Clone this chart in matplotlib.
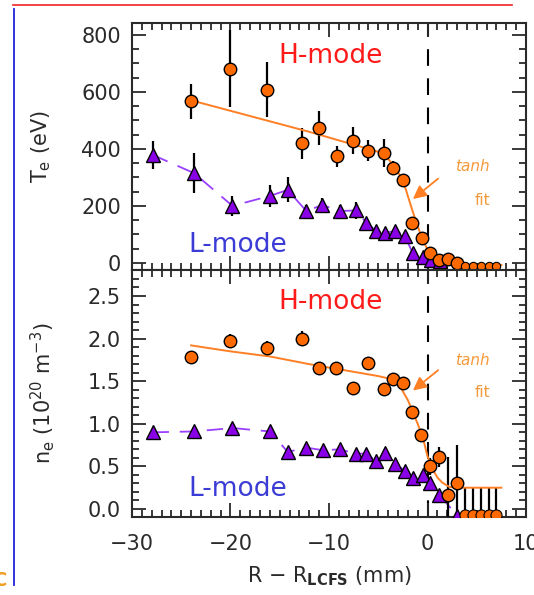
import matplotlib
matplotlib.use("Agg")
import matplotlib.pyplot as plt
import matplotlib.ticker as ticker
from matplotlib.lines import Line2D

# ---- data ----
# Te, H-mode (orange circles)
te_h_x = [-24.0, -20.0, -16.3, -12.7, -11.0, -9.2, -7.6, -6.0, -4.4, -3.5, -2.45, -1.55, -0.6, 0.25, 1.15, 2.1, 3.0]
te_h_y = [567, 682, 608, 420, 473, 374, 429, 394, 386, 332, 292, 140, 88, 33, 10, 12, 0]
te_h_err = [62, 136, 97, 55, 59, 38, 48, 38, 50, 25, 20, 12, 10, 10, 6, 6, 5]
# points sitting on the floor
floor_x = [3.8, 4.6, 5.4, 6.2, 7.0]
te_floor_y = [-10, -10, -10, -10, -10]

# Te, L-mode (purple triangles)
te_l_x = [-27.9, -23.7, -19.8, -16.0, -14.2, -12.3, -10.7, -8.9, -7.3, -6.2, -5.2, -4.3, -3.25, -2.3, -1.5, -0.5, 0.4, 1.3]
te_l_y = [379, 315, 200, 235, 256, 182, 203, 182, 184, 141, 112, 106, 112, 95, 34, 19, 10, 5]
te_l_err = [49, 70, 35, 40, 44, 22, 25, 20, 30, 15, 12, 12, 12, 15, 8, 8, 6, 5]

# Te tanh fit
te_fit_x = [-23.5, -12.0, -4.5, -3.5, -2.5, -1.5, -0.5, 0.0, 0.5, 1.0, 2.0, 3.0, 5.0, 7.5]
te_fit_y = [566, 460, 385, 345, 291, 180, 80, 48, 25, 10, 2, -5, -7, -7]

# ne, H-mode
ne_h_x = [-24.0, -20.0, -16.3, -12.7, -11.0, -9.3, -7.6, -6.0, -4.4, -3.5, -2.5, -1.55, -0.65, 0.3, 1.15, 2.1, 3.0]
ne_h_y = [1.78, 1.97, 1.89, 2.00, 1.66, 1.65, 1.42, 1.71, 1.41, 1.53, 1.48, 1.14, 0.87, 0.50, 0.61, 0.16, 0.30]
ne_h_err = [0.05, 0.08, 0.08, 0.09, 0.04, 0.04, 0.04, 0.04, 0.04, 0.05, 0.04, 0.04, 0.04, 0.10, 0.12, 0.45, 0.45]
ne_floor_y = [-0.07, -0.07, -0.07, -0.07, -0.07]
ne_floor_err = [0.32, 0.32, 0.32, 0.32, 0.32]

# ne, L-mode
ne_l_x = [-27.9, -23.7, -19.8, -16.0, -14.2, -12.3, -10.6, -8.9, -7.3, -6.2, -5.2, -4.3, -3.25, -2.3, -1.5, -0.5, 0.3, 1.2, 3.0]
ne_l_y = [0.90, 0.91, 0.95, 0.91, 0.67, 0.72, 0.69, 0.70, 0.65, 0.65, 0.56, 0.66, 0.53, 0.45, 0.36, 0.40, 0.31, 0.17, -0.08]
ne_l_err = [0.04, 0.05, 0.05, 0.05, 0.04, 0.04, 0.04, 0.04, 0.04, 0.04, 0.04, 0.04, 0.04, 0.04, 0.04, 0.04, 0.04, 0.04, 0.04]

# ne tanh fit
ne_fit_x = [-24.0, -20.0, -16.0, -12.0, -8.0, -5.0, -3.5, -2.8, -2.0, -1.5, -1.0, -0.5, 0.0, 0.5, 1.0, 1.5, 2.2, 3.0, 5.0, 7.5]
ne_fit_y = [1.92, 1.85, 1.79, 1.70, 1.62, 1.56, 1.52, 1.44, 1.28, 1.14, 1.00, 0.85, 0.62, 0.47, 0.37, 0.31, 0.26, 0.25, 0.25, 0.25]

ORANGE = "#ff6a00"
FITC = "#ff7f24"
PURPLE = "#8a00e6"
PLINE = "#9a40ff"
LABELC = "#f59a3a"
INK = "#2a2a2a"

plt.rcParams["font.family"] = "DejaVu Sans"

fig = plt.figure(figsize=(5.34, 5.95), dpi=100)
left = 132 / 534
width = (526 - 132) / 534
h = 247 / 595
ax1 = fig.add_axes([left, 1 - 270 / 595, width, h])
ax2 = fig.add_axes([left, 1 - 517 / 595, width, h])


def style(ax):
    ax.set_xlim(-30, 10)
    ax.xaxis.set_major_locator(ticker.MultipleLocator(10))
    ax.xaxis.set_minor_locator(ticker.MultipleLocator(1))
    ax.tick_params(which="both", direction="in", top=True, right=True, width=1.3, colors=INK)
    ax.tick_params(which="major", length=10, labelsize=15, pad=8)
    ax.tick_params(which="minor", length=5)
    for s in ax.spines.values():
        s.set_linewidth(1.5)
        s.set_color(INK)
    ax.axvline(0, color="black", lw=1.5, dashes=(8, 6), zorder=1)


def draw(ax, hx, hy, herr, lx, ly, lerr, fx, fy, fl_y, fl_err, msize_floor):
    ax.errorbar(lx, ly, yerr=lerr, fmt="none", ecolor="black", elinewidth=1.6, capsize=0, zorder=2)
    ax.plot(lx, ly, color=PLINE, lw=1.3, dashes=(9, 6), zorder=2)
    ax.plot(lx, ly, "^", ms=9.5, mfc=PURPLE, mec="black", mew=1.0, ls="none", zorder=4)
    ax.errorbar(hx, hy, yerr=herr, fmt="none", ecolor="black", elinewidth=1.6, capsize=0, zorder=3)
    ax.errorbar(floor_x, fl_y, yerr=fl_err, fmt="none", ecolor="black", elinewidth=1.6, capsize=0, zorder=3)
    ax.plot(fx, fy, color=FITC, lw=1.4, zorder=3)
    ax.plot(hx, hy, "o", ms=9, mfc=ORANGE, mec="black", mew=1.0, ls="none", zorder=5)
    ax.plot(floor_x, fl_y, "o", ms=msize_floor, mfc=ORANGE, mec="black", mew=0.8, ls="none", zorder=5)


style(ax1)
style(ax2)

draw(ax1, te_h_x, te_h_y, te_h_err, te_l_x, te_l_y, te_l_err, te_fit_x, te_fit_y,
     te_floor_y, [0] * len(floor_x), 6)
draw(ax2, ne_h_x, ne_h_y, ne_h_err, ne_l_x, ne_l_y, ne_l_err, ne_fit_x, ne_fit_y,
     ne_floor_y, ne_floor_err, 8)

ax1.set_ylim(-25, 842)
ax1.yaxis.set_major_locator(ticker.MultipleLocator(200))
ax1.yaxis.set_minor_locator(ticker.MultipleLocator(50))
ax1.tick_params(axis="x", labelbottom=False)

ax2.set_ylim(-0.094, 2.805)
ax2.yaxis.set_major_locator(ticker.MultipleLocator(0.5))
ax2.yaxis.set_minor_locator(ticker.MultipleLocator(0.1))
ax2.yaxis.set_major_formatter(ticker.FormatStrFormatter("%.1f"))
ax2.tick_params(axis="x", pad=12)

ax1.set_ylabel(r"T$_{\rm e}$ (eV)", fontsize=15, color=INK)
ax1.yaxis.set_label_coords(-0.2, 0.5)
ax2.set_ylabel(r"n$_{\rm e}$ (10$^{20}$ m$^{-3}$)", fontsize=15, color=INK)
ax2.yaxis.set_label_coords(-0.19, 0.5)
ax2.set_xlabel(r"R $-$ R$_{\mathbf{LCFS}}$ (mm)", fontsize=15, color=INK, labelpad=8)

# annotations
for ax, hy, ly, ty, fy, ay0, ay1 in [(ax1, 726, 63, 337, 218, 302, 218),
                                     (ax2, 2.43, 0.23, 1.74, 1.37, 1.65, 1.37)]:
    ax.text(-9.8, hy, "H-mode", color="#ff1a1a", fontsize=19, ha="center", va="center")
    ax.text(-19.3, ly, "L-mode", color="#3b3bd6", fontsize=19, ha="center", va="center")
    ax.text(4.6, ty, "tanh", color=LABELC, fontsize=11, style="italic", ha="center", va="center")
    ax.text(5.6, fy, "fit", color=LABELC, fontsize=11, ha="center", va="center")
    ax.annotate("", xy=(-1.7, ay1), xytext=(1.3, ay0),
                arrowprops=dict(arrowstyle="-|>", color=FITC, lw=1.3, mutation_scale=20))

# slide decorations around the figure
fig.add_artist(Line2D([13 / 534, 512 / 534], [1 - 5 / 595, 1 - 5 / 595], color="#ee2222", lw=1.2))
fig.add_artist(Line2D([14 / 534, 14 / 534], [1 - 9 / 595, 1 - 585 / 595], color="#2222dd", lw=1.3))
fig.text(0.0, 1 - 580 / 595, "C", color="#f0a020", fontsize=14, fontweight="bold", ha="center", va="center")

fig.savefig("out.png", dpi=100)
